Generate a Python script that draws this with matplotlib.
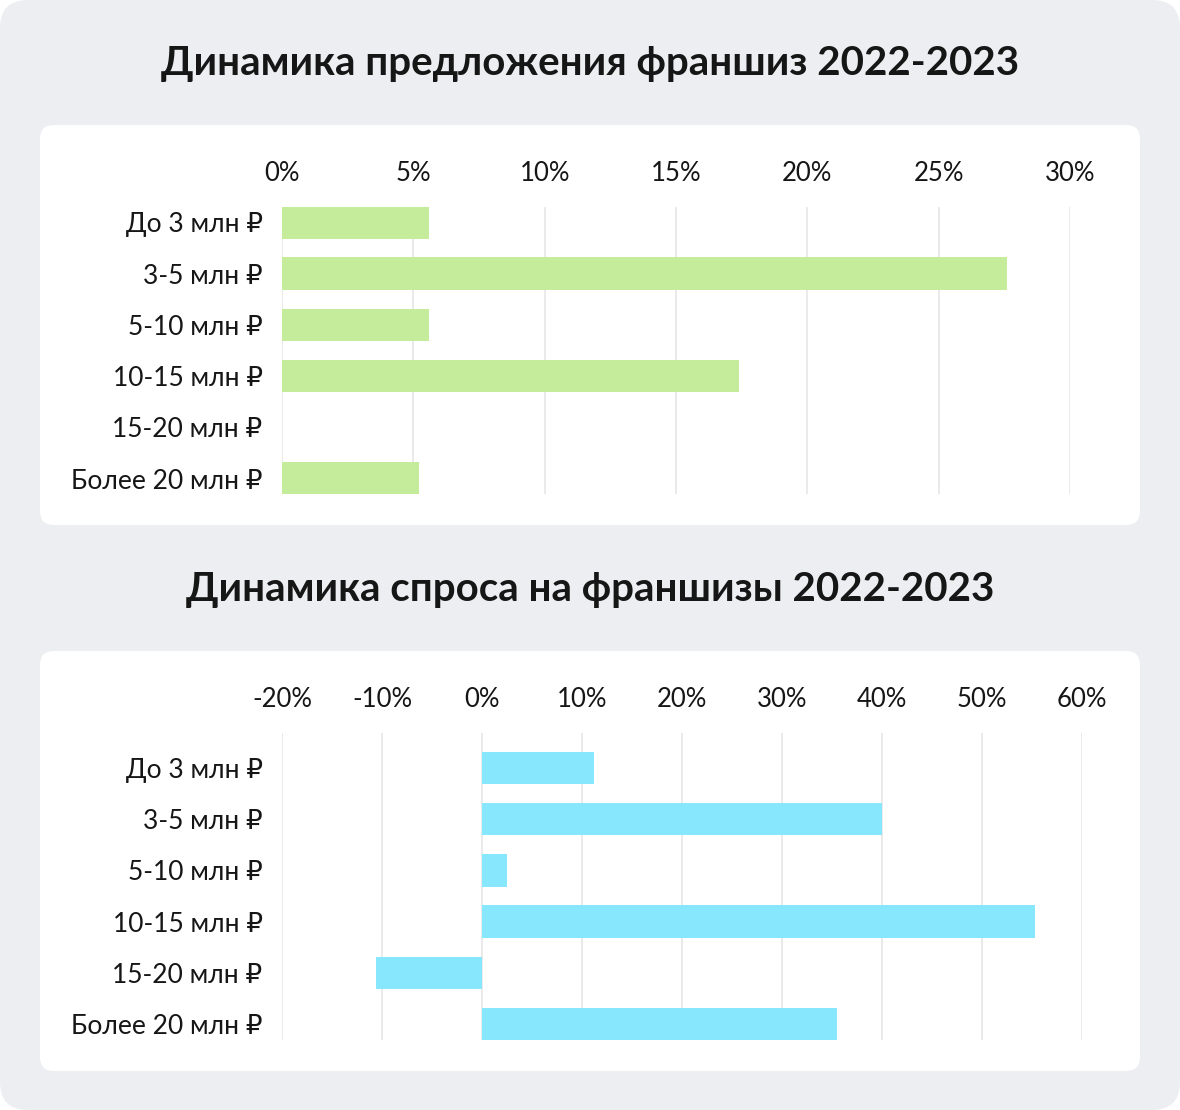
import numpy as np
import matplotlib
matplotlib.use("Agg")
import matplotlib.pyplot as plt
from matplotlib.patches import FancyBboxPatch

plt.rcParams["font.family"] = ["Lato", "DejaVu Sans"]

categories = ["До 3 млн ₽", "3-5 млн ₽", "5-10 млн ₽", "10-15 млн ₽", "15-20 млн ₽", "Более 20 млн ₽"]
supply = [5.6, 27.6, 5.6, 17.4, 0.0, 5.2]
demand = [11.2, 40.0, 2.5, 55.3, -10.6, 35.5]
supply_ticks = [0, 5, 10, 15, 20, 25, 30]
demand_ticks = [-20, -10, 0, 10, 20, 30, 40, 50, 60]

title_top = "Динамика предложения франшиз 2022-2023"
title_bottom = "Динамика спроса на франшизы 2022-2023"

W, H = 1180, 1110
BG = "#eceef2"
TXT = "#161616"
GRID = "#e6e6e6"

fig = plt.figure(figsize=(W / 100, H / 100), dpi=100)
fig.patch.set_facecolor("white")

# background layer in pixel coordinates
bg = fig.add_axes([0, 0, 1, 1])
bg.set_xlim(0, W)
bg.set_ylim(H, 0)
bg.axis("off")
bg.add_patch(FancyBboxPatch((0, 0), W, H, boxstyle="round,pad=0,rounding_size=28",
                            fc=BG, ec="none"))
for y0, y1 in [(125, 525), (651, 1071)]:
    bg.add_patch(FancyBboxPatch((40, y0), 1100, y1 - y0,
                                boxstyle="round,pad=0,rounding_size=14",
                                fc="white", ec="none"))
bg.text(590, 63, title_top, ha="center", va="center", fontsize=29,
        fontweight="bold", color=TXT)
bg.text(590, 590, title_bottom, ha="center", va="center", fontsize=29,
        fontweight="bold", color=TXT)


def px_axes(x0, x1, y0, y1):
    return fig.add_axes([x0 / W, 1 - y1 / H, (x1 - x0) / W, (y1 - y0) / H])


def draw(ax, values, ticks, color, ylim):
    y = np.arange(len(categories))
    ax.set_facecolor("none")
    for t in ticks:
        ax.axvline(t, color=GRID, lw=1.2, zorder=0)
    ax.barh(y, values, height=0.63, color=color, zorder=2)
    ax.set_xlim(ticks[0], ticks[-1])
    ax.set_ylim(*ylim)
    ax.set_yticks(y)
    ax.set_yticklabels(categories)
    ax.set_xticks(ticks)
    ax.set_xticklabels([f"{t}%" for t in ticks])
    ax.xaxis.tick_top()
    ax.tick_params(axis="x", length=0, pad=15, labelsize=18.5, colors=TXT)
    ax.tick_params(axis="y", length=0, pad=14, labelsize=19, colors=TXT)
    for s in ax.spines.values():
        s.set_visible(False)


ax1 = px_axes(282, 1070, 207, 494)
draw(ax1, supply, supply_ticks, "#c5ec9a", (5.3, -0.3))

ax2 = px_axes(282, 1082, 733, 1040)
draw(ax2, demand, demand_ticks, "#87e7fd", (5.31, -0.68))

fig.savefig("out.png", dpi=100)
